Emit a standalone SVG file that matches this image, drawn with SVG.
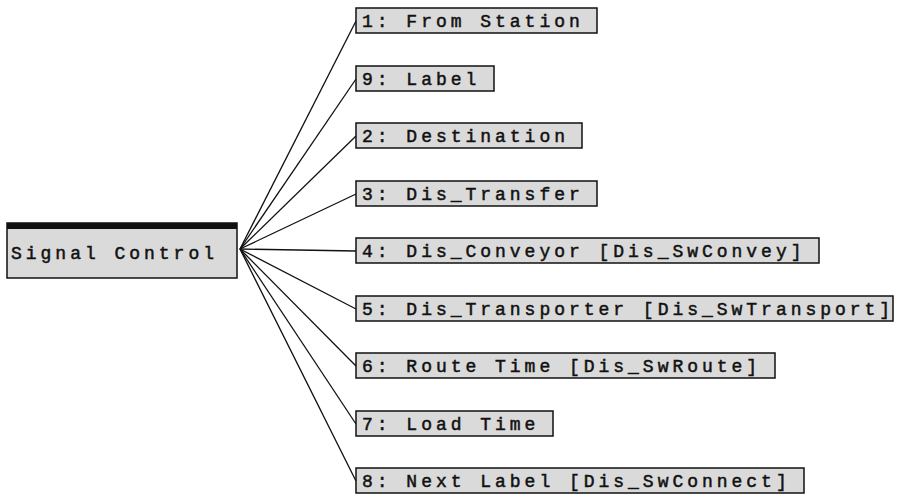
<svg xmlns="http://www.w3.org/2000/svg" width="898" height="494" viewBox="0 0 898 494">
<style>
.box{fill:#dadada;stroke:#111;stroke-width:1.5}
.t{font-family:"Liberation Mono","Courier New",monospace;font-size:18px;letter-spacing:3.98px;fill:#111;stroke:#111;stroke-width:0.5}
.c line{stroke:#111;stroke-width:1.3}
</style>
<rect width="898" height="494" fill="#fff"/>
<g class="c" id="connectors">
<line x1="240" y1="249" x2="356" y2="21"/>
<line x1="240" y1="249" x2="356" y2="79"/>
<line x1="240" y1="249" x2="356" y2="136"/>
<line x1="240" y1="249" x2="356" y2="194"/>
<line x1="240" y1="249" x2="356" y2="251"/>
<line x1="240" y1="249" x2="356" y2="309"/>
<line x1="240" y1="249" x2="356" y2="366"/>
<line x1="240" y1="249" x2="356" y2="424"/>
<line x1="240" y1="249" x2="356" y2="481"/>
</g>
<g id="signal-control">
<rect class="box" x="7" y="223" width="230" height="55"/>
<rect x="7" y="223" width="230" height="6" fill="#111"/>
<text class="t" x="11" y="259">Signal Control</text>
</g>
<g id="n1"><rect class="box" x="356" y="8" width="241" height="25"/><text class="t" x="362" y="26.5">1: From Station</text></g>
<g id="n9"><rect class="box" x="356" y="66" width="138" height="25"/><text class="t" x="362" y="84.5">9: Label</text></g>
<g id="n2"><rect class="box" x="356" y="123" width="226" height="25"/><text class="t" x="362" y="141.5">2: Destination</text></g>
<g id="n3"><rect class="box" x="356" y="181" width="241" height="25"/><text class="t" x="362" y="199.5">3: Dis_Transfer</text></g>
<g id="n4"><rect class="box" x="356" y="238" width="463" height="25"/><text class="t" x="362" y="256.5">4: Dis_Conveyor [Dis_SwConvey]</text></g>
<g id="n5"><rect class="box" x="356" y="296" width="537" height="25"/><text class="t" x="362" y="314.5">5: Dis_Transporter [Dis_SwTransport]</text></g>
<g id="n6"><rect class="box" x="356" y="353" width="419" height="25"/><text class="t" x="362" y="371.5">6: Route Time [Dis_SwRoute]</text></g>
<g id="n7"><rect class="box" x="356" y="411" width="197" height="25"/><text class="t" x="362" y="429.5">7: Load Time</text></g>
<g id="n8"><rect class="box" x="356" y="468" width="448" height="25"/><text class="t" x="362" y="486.5">8: Next Label [Dis_SwConnect]</text></g>
</svg>
